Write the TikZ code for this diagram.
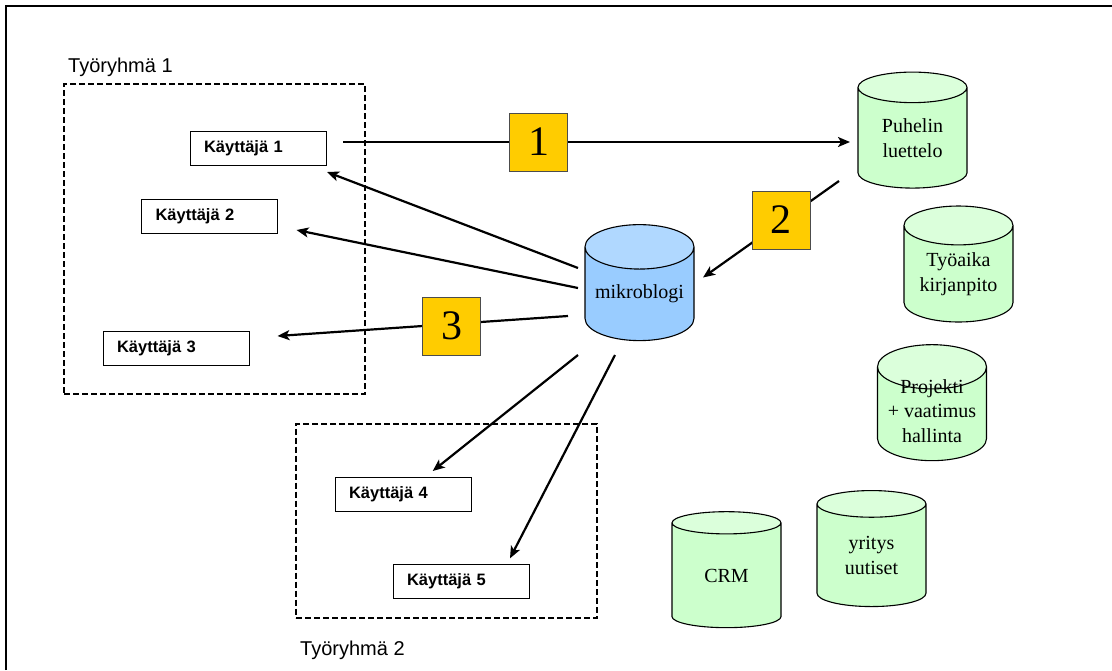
\documentclass[tikz,border=0pt]{standalone}
\usepackage{fontspec}
\setmainfont{Liberation Serif}
\setsansfont{Liberation Sans}
\usetikzlibrary{shapes.geometric, arrows.meta, calc}

\definecolor{dbgreen}{HTML}{CCFFCC}
\definecolor{dbgreentop}{HTML}{DBFFDB}
\definecolor{dbblue}{HTML}{99CCFF}
\definecolor{dbbluetop}{HTML}{B0D8FF}
\definecolor{steporange}{HTML}{FFCC00}

\begin{document}
\begin{tikzpicture}[
        x=1pt, y=-1pt,
        user/.style={draw, line width=1pt, text width=108pt, inner xsep=14pt, inner ysep=0pt,
            minimum height=34pt, align=left, font=\fontsize{16.5}{20}\selectfont\sffamily\bfseries},
        grp/.style={draw, line width=2pt, dash pattern=on 6pt off 3pt, inner sep=0pt},
        grplabel/.style={anchor=base west, inner sep=0pt, font=\fontsize{20}{24}\selectfont\sffamily},
        db/.style={cylinder, shape border rotate=90, draw, line width=1.1pt, aspect=0.5,
            minimum width=109pt, minimum height=116pt, inner sep=0pt, align=center,
            cylinder uses custom fill, cylinder body fill=dbgreen, cylinder end fill=dbgreentop,
            font=\fontsize{20}{24.5}\selectfont},
        numbox/.style={draw=black!70, line width=1pt, fill=steporange, minimum size=58pt,
            inner sep=0pt, font=\fontsize{42}{42}\selectfont},
        ar/.style={-{Stealth[length=12pt, width=10pt, inset=3pt]}, line width=2.2pt},
    ]
    \useasboundingbox (0,0) rectangle (1112,670);
    \draw[line width=1.8pt] (6,670) -- (6,6) -- (1112,6);

    % tyoryhmat
    \node[grp, minimum width=301pt, minimum height=310pt] (grp1) at (214.5,239) {};
    \node[grp, minimum width=301pt, minimum height=194pt] (grp2) at (446.5,520.5) {};
    \node[grplabel] (lbl1) at (68,72) {Työryhmä 1};
    \node[grplabel] (lbl2) at (300,655) {Työryhmä 2};

    % kayttajat
    \node[user] (k1) at (258,148) {Käyttäjä 1};
    \node[user] (k2) at (209.5,216) {Käyttäjä 2};
    \node[user, text width=118pt] (k3) at (176,348) {Käyttäjä 3};
    \node[user] (k4) at (403,494) {Käyttäjä 4};
    \node[user] (k5) at (461,581) {Käyttäjä 5};

    % tietokannat
    \node[db, cylinder body fill=dbblue, cylinder end fill=dbbluetop] (mb) at (639.5,294) {mikroblogi};
    \node[db] (puh) at (912.5,138) {Puhelin\\luettelo};
    \node[db] (tyo) at (958.5,274) {Työaika\\kirjanpito};
    \node[db] (proj) at (932,414)
        {\raisebox{-4pt}[0pt][0pt]{\begin{tabular}{@{}c@{}}Projekti\\+ vaatimus\\hallinta\end{tabular}}};
    \node[db] (crm) at (726.5,575.5) {CRM};
    \node[db] (yr) at (871.5,555.5) {yritys\\uutiset};

    \draw[ar] ($(k1.center)+(85,-6)$) -- ($(puh.center)+(-62.5,4)$);
    \draw[ar] ($(puh.center)+(-73.5,43)$) -- ($(mb.center)+(63.5,-16.5)$);
    \draw[ar] ($(mb.center)+(-71.5,22)$) -- ($(k3.center)+(101.5,-12)$);
    \draw[ar] ($(mb.center)+(-61.5,-26)$) -- ($(k1.center)+(69,24)$);
    \draw[ar] ($(mb.center)+(-61.5,-6)$) -- ($(k2.center)+(87,14)$);
    \draw[ar] ($(mb.center)+(-61.5,61)$) -- ($(k4.center)+(29.7,-23)$);
    \draw[ar] ($(mb.center)+(-24.5,61)$) -- ($(k5.center)+(49,-22.7)$);

    % numerot
    \node[numbox] (n1) at (538.5,142) {1};
    \node[numbox] (n2) at (781,220) {2};
    \node[numbox] (n3) at (451.5,326) {3};
\end{tikzpicture}
\end{document}
